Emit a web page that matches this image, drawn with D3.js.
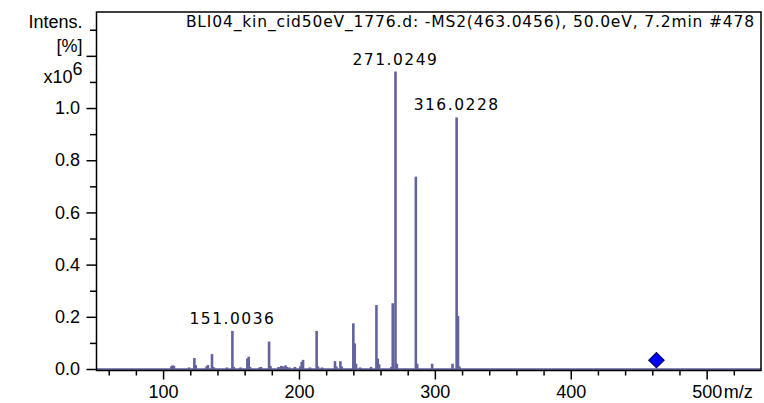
<!DOCTYPE html>
<html>
<head>
<meta charset="utf-8">
<script src="https://cdn.jsdelivr.net/npm/d3@7"></script>
<style>
  html, body { margin: 0; padding: 0; background: #fff; }
  svg { display: block; }
  .axis text { font-family: "Liberation Sans", Arial, sans-serif; font-size: 18px; fill: #000; }
  .axis line { stroke: #000; stroke-width: 1.5; }
  .peak-label, .title { font-family: "DejaVu Sans", sans-serif; font-size: 15.5px; fill: #000; }
</style>
</head>
<body>
<div id="chart"></div>
<script>
// spectrum: m/z and intensity (x10^6)
const mzValues = [106.0, 107.0, 108.0, 119.0, 123.0, 124.0, 132.0, 133.0, 136.0, 137.0,
  147.0, 151.0036, 152.0, 157.0, 162.0, 163.0, 164.0, 171.0, 172.0, 178.0, 179.0,
  185.0, 187.0, 188.0, 190.0, 191.0, 193.0, 197.0, 201.0, 202.0, 203.0,
  208.0, 213.0, 214.0, 217.0, 226.5, 227.5, 230.5, 231.5,
  240.0, 241.0, 242.0, 245.0, 253.0, 257.0, 258.0, 259.0,
  268.0, 269.0, 271.0249, 272.0, 286.0, 287.0, 298.0, 313.0, 316.0228, 317.0, 318.0];
const intensities = [0.010, 0.014, 0.012, 0.006, 0.042, 0.015, 0.010, 0.015, 0.057, 0.008,
  0.006, 0.146, 0.008, 0.006, 0.040, 0.047, 0.008, 0.006, 0.008, 0.105, 0.012,
  0.008, 0.012, 0.010, 0.014, 0.008, 0.006, 0.008, 0.010, 0.027, 0.035,
  0.006, 0.146, 0.010, 0.006, 0.030, 0.010, 0.030, 0.010,
  0.175, 0.098, 0.020, 0.006, 0.008, 0.245, 0.040, 0.018,
  0.008, 0.252, 1.14, 0.020, 0.737, 0.020, 0.020, 0.020, 0.964, 0.203, 0.010];

const labelledPeaks = [151.0036, 271.0249, 316.0228];
const precursor = { mz: 463.0456, intensity: 0.034 };

const yMajorTicks = [0, 0.2, 0.4, 0.6, 0.8, 1.0];
const yExtraMajor = [1.2];
const yMinorTicks = [0.1, 0.3, 0.5, 0.7, 0.9, 1.1, 1.3];
const xMajorTicks = [100, 200, 300, 400, 500];
const xMinorTicks = [60, 80, 120, 140, 160, 180, 220, 240, 260, 280, 320, 340, 360, 380, 420, 440, 460, 480, 520];

const titleText = "BLI04_kin_cid50eV_1776.d: -MS2(463.0456), 50.0eV, 7.2min #478";

const W = 764, H = 403;
const frame = { left: 96.5, right: 761, top: 12, bottom: 370.5 };
const barColor = "#62629c";

const svg = d3.select("#chart").append("svg")
  .attr("width", W)
  .attr("height", H);

const x = d3.scaleLinear().domain([51, 540]).range([frame.left, frame.right]);
const y = d3.scaleLinear().domain([0, 1.368]).range([369, frame.top]);

const peaks = mzValues.map((m, i) => ({ mz: m, v: intensities[i] }));

// baseline of the spectrum
svg.append("line")
  .attr("x1", frame.left).attr("x2", frame.right)
  .attr("y1", y(0) + 0.3).attr("y2", y(0) + 0.3)
  .attr("stroke", barColor)
  .attr("stroke-width", 2);

svg.selectAll("rect.peak")
  .data(peaks)
  .join("rect")
  .attr("class", "peak")
  .attr("x", d => x(d.mz - 0.95))
  .attr("width", d => x(d.mz + 0.95) - x(d.mz - 0.95))
  .attr("y", d => y(d.v))
  .attr("height", d => y(0) - y(d.v))
  .attr("fill", barColor);

svg.selectAll("text.peak-label")
  .data(peaks.filter(d => labelledPeaks.includes(d.mz)))
  .join("text")
  .attr("class", "peak-label")
  .attr("x", d => x(d.mz))
  .attr("y", d => y(d.v) - 7)
  .attr("text-anchor", "middle")
  .style("letter-spacing", "1.5px")
  .text(d => d.mz.toFixed(4));

// precursor marker
svg.append("path")
  .attr("d", d3.symbol(d3.symbolSquare).size(120)())
  .attr("transform", `translate(${x(precursor.mz)},${y(precursor.intensity)}) rotate(45)`)
  .attr("fill", "#0000ff")
  .attr("stroke", "#000040")
  .attr("stroke-width", 1);

// frame
svg.append("rect")
  .attr("x", frame.left).attr("y", frame.top)
  .attr("width", frame.right - frame.left)
  .attr("height", frame.bottom - frame.top)
  .attr("fill", "none")
  .attr("stroke", "#000")
  .attr("stroke-width", 1.5);

// y axis
const yAxis = svg.append("g").attr("class", "axis")
  .attr("transform", `translate(${frame.left},0)`)
  .call(d3.axisLeft(y).tickValues(yMajorTicks).tickSize(10).tickPadding(6.5).tickFormat(d3.format(".1f")));
yAxis.select(".domain").remove();

const yAxis2 = svg.append("g").attr("class", "axis")
  .attr("transform", `translate(${frame.left},0)`)
  .call(d3.axisLeft(y).tickValues(yExtraMajor).tickSize(10).tickFormat(""));
yAxis2.select(".domain").remove();

const yAxis3 = svg.append("g").attr("class", "axis")
  .attr("transform", `translate(${frame.left},0)`)
  .call(d3.axisLeft(y).tickValues(yMinorTicks).tickSize(6.5).tickFormat(""));
yAxis3.select(".domain").remove();

// y unit labels
const unitG = svg.append("g").attr("class", "axis");
unitG.append("text").attr("x", 82.5).attr("y", 28).attr("text-anchor", "end").text("Intens.");
unitG.append("text").attr("x", 82.5).attr("y", 52).attr("text-anchor", "end").text("[%]");
const exp = unitG.append("text").attr("x", 82.5).attr("y", 83).attr("text-anchor", "end");
exp.append("tspan").text("x10");
exp.append("tspan").attr("dy", -8).text("6");

// x axis
const xAxis = svg.append("g").attr("class", "axis")
  .attr("transform", `translate(0,${frame.bottom})`)
  .call(d3.axisBottom(x).tickValues(xMajorTicks).tickSize(9).tickPadding(6).tickFormat(d3.format("d")));
xAxis.select(".domain").remove();

const xAxis2 = svg.append("g").attr("class", "axis")
  .attr("transform", `translate(0,${frame.bottom})`)
  .call(d3.axisBottom(x).tickValues(xMinorTicks).tickSize(5).tickFormat(""));
xAxis2.select(".domain").remove();

svg.append("g").attr("class", "axis")
  .append("text")
  .attr("x", x(500) + 17)
  .attr("y", frame.bottom + 15)
  .attr("dy", "0.71em")
  .text("m/z");

// title
svg.append("text")
  .attr("class", "title")
  .attr("x", 755)
  .attr("y", 27)
  .attr("text-anchor", "end")
  .style("letter-spacing", "0.85px")
  .text(titleText);
</script>
</body>
</html>
